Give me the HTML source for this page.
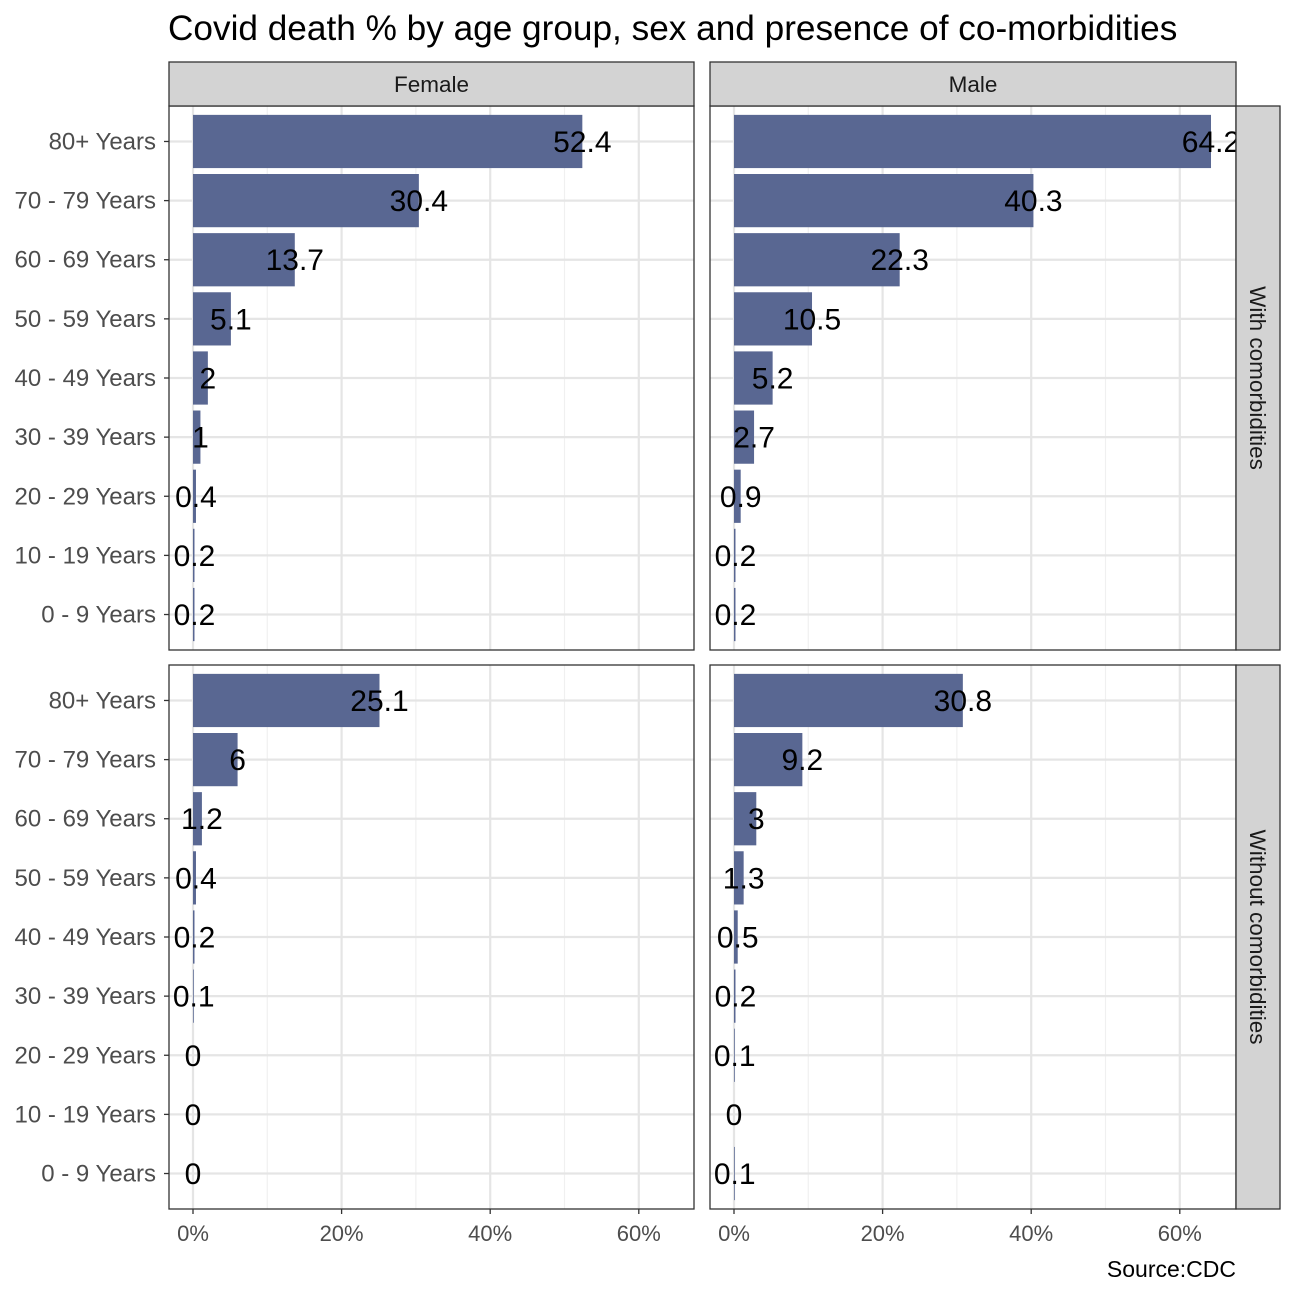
<!DOCTYPE html>
<html><head><meta charset="utf-8"><style>
body{margin:0;background:#fff;}
svg{display:block;font-family:"Liberation Sans",Arial,sans-serif;}
</style></head><body>
<svg id="chart" width="1296" height="1296" viewBox="0 0 1296 1296">
<text x="168" y="40" font-size="35.2" fill="#000">Covid death % by age group, sex and presence of co-morbidities</text>
<text x="1236" y="1277" font-size="23" text-anchor="end" fill="#000">Source:CDC</text>
<g id="plot"></g>
</svg>
<script>
const ages = ["80+ Years","70 - 79 Years","60 - 69 Years","50 - 59 Years","40 - 49 Years","30 - 39 Years","20 - 29 Years","10 - 19 Years","0 - 9 Years"];
const sexes = ["Female","Male"];
const conditions = ["With comorbidities","Without comorbidities"];
const femaleWith = [52.4,30.4,13.7,5.1,2,1,0.4,0.2,0.2];
const maleWith = [64.2,40.3,22.3,10.5,5.2,2.7,0.9,0.2,0.2];
const femaleWithout = [25.1,6,1.2,0.4,0.2,0.1,0,0,0];
const maleWithout = [30.8,9.2,3,1.3,0.5,0.2,0.1,0,0.1];
const xTicks = [0,20,40,60];
const xMinor = [10,30,50];

const NS="http://www.w3.org/2000/svg";
const g=document.getElementById('plot');
function mk(tag,attrs,parent){const e=document.createElementNS(NS,tag);for(const k in attrs)e.setAttribute(k,attrs[k]);(parent||g).appendChild(e);return e;}
const panelX=[[169,694],[710,1236]];
const panelY=[[106,650],[665,1209]];
const zeroOff=24, pxPer=7.43;
const data=[[femaleWith,maleWith],[femaleWithout,maleWithout]];
function xs(c,v){return panelX[c][0]+zeroOff+v*pxPer;}
function ys(r,i){const h=panelY[r][1]-panelY[r][0];const bw=h/9.2;return panelY[r][0]+bw*(0.6+i);}
for(let r=0;r<2;r++){
  for(let c=0;c<2;c++){
    const [x0,x1]=panelX[c],[y0,y1]=panelY[r];
    const bw=(y1-y0)/9.2;
    const p=mk('g',{});
    
    
    mk('rect',{x:x0,y:y0,width:x1-x0,height:y1-y0,fill:'#fff'},p);
    xMinor.forEach(t=>{const l=mk('line',{x1:xs(c,t),x2:xs(c,t),y1:y0,y2:y1,stroke:'#f0f0f0','stroke-width':1.2},p);});
    xTicks.forEach(t=>{const l=mk('line',{x1:xs(c,t),x2:xs(c,t),y1:y0,y2:y1,stroke:'#e5e5e5','stroke-width':2.2},p);});
    ages.forEach((a,i)=>{const l=mk('line',{x1:x0,x2:x1,y1:ys(r,i),y2:ys(r,i),stroke:'#e5e5e5','stroke-width':2.2},p);});
    data[r][c].forEach((v,i)=>{
      const b=mk('rect',{x:xs(c,0),y:ys(r,i)-bw*0.45,width:Math.max(v*pxPer,0.01),height:bw*0.9,fill:'#596792'},p);
      
      
      const t=mk('text',{x:xs(c,v),y:ys(r,i)+10.5,'font-size':30,'text-anchor':'middle',fill:'#000'},p);
      t.textContent=String(v);
      
      
    });
    mk('rect',{x:x0,y:y0,width:x1-x0,height:y1-y0,fill:'none',stroke:'#333','stroke-width':1.3},p);
    if(c===0){
      ages.forEach((a,i)=>{
        mk('line',{x1:x0-5,x2:x0,y1:ys(r,i),y2:ys(r,i),stroke:'#333','stroke-width':1.3},p);
        const t=mk('text',{x:x0-13,y:ys(r,i)+8,'font-size':24,'text-anchor':'end',fill:'#4d4d4d'},p);
        t.textContent=a;
        
        
      });
    }
    if(r===1){
      xTicks.forEach(v=>{
        mk('line',{x1:xs(c,v),x2:xs(c,v),y1:y1,y2:y1+5,stroke:'#333','stroke-width':1.3},p);
        const t=mk('text',{x:xs(c,v),y:y1+32,'font-size':22,'text-anchor':'middle',fill:'#4d4d4d'},p);
        t.textContent=v+'%';
        
        
      });
    }
    if(r===0){
      const s=mk('rect',{x:x0,y:62,width:x1-x0,height:44,fill:'#d3d3d3',stroke:'#333','stroke-width':1.3},p);
      
      
      const t=mk('text',{x:(x0+x1)/2,y:92,'font-size':22.5,'text-anchor':'middle',fill:'#1a1a1a'},p);
      t.textContent=sexes[c];
      
      
    }
    if(c===1){
      const s=mk('rect',{x:1236,y:y0,width:44,height:y1-y0,fill:'#d3d3d3',stroke:'#333','stroke-width':1.3},p);
      
      
      const cy=(y0+y1)/2;
      const t=mk('text',{x:1250,y:cy,'font-size':22.5,'text-anchor':'middle',fill:'#1a1a1a',transform:'rotate(90 1250 '+cy+')'},p);
      t.textContent=conditions[r];
      
      
    }
  }
}
</script>
</body></html>
